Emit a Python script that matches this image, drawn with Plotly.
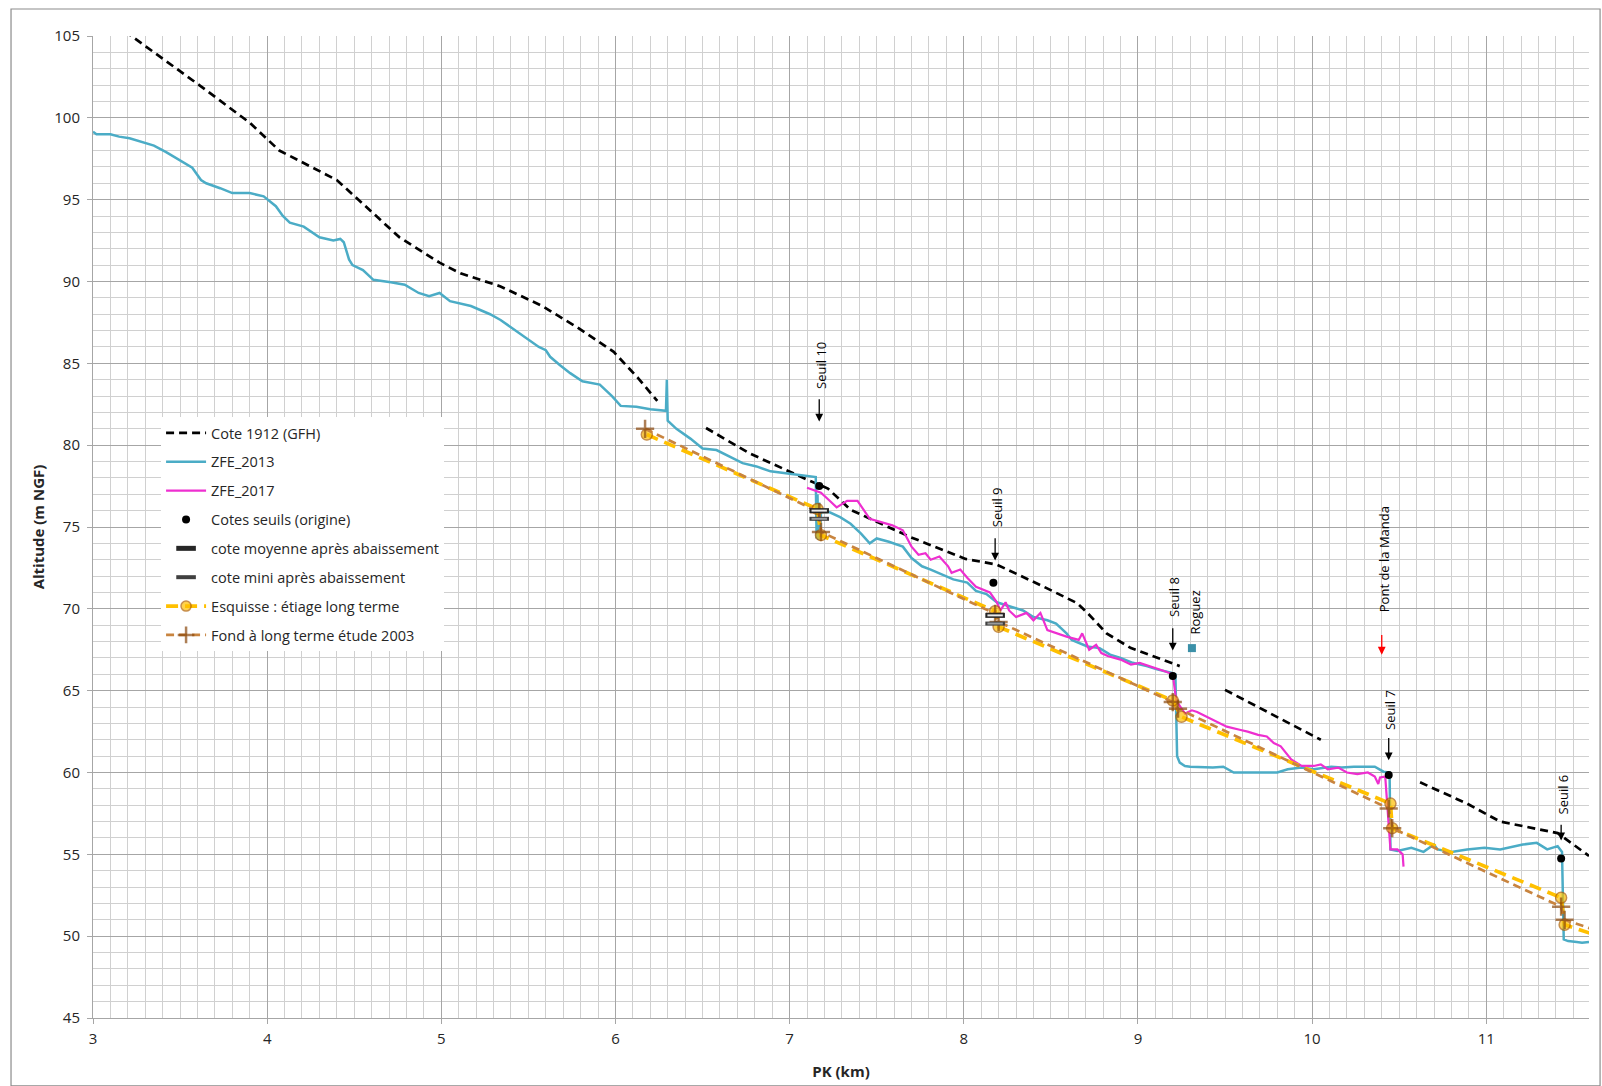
import plotly.graph_objects as go

# ---------------- data ----------------
cote1912_x = [3.0, 3.22, 3.61, 3.90, 4.07, 4.40, 4.76, 4.99, 5.11, 5.34, 5.58, 5.78, 5.99, 6.13, 6.24, None,
              6.52, 6.77, 7.10, 7.22, 7.35, 7.69, 8.01, 8.19, 8.45, 8.65, 8.71, 8.82, 8.96, 9.09, 9.24, None,
              9.50, 10.05, None,
              10.62, 10.89, 11.08, 11.28, 11.41, 11.59]
cote1912_y = [106.7, 105.0, 102.0, 99.7, 98.0, 96.2, 92.7, 91.15, 90.5, 89.7, 88.5, 87.2, 85.7, 84.1, 82.7, None,
              81.05, 79.5, 77.9, 77.35, 76.05, 74.4, 73.05, 72.7, 71.4, 70.35, 69.75, 68.5, 67.6, 67.1, 66.5, None,
              65.05, 62.0, None,
              59.4, 58.1, 57.0, 56.6, 56.3, 54.9]

zfe2013_x = [3.0, 3.02, 3.10, 3.15, 3.21, 3.29, 3.35, 3.42, 3.51, 3.57, 3.62, 3.65, 3.73, 3.80, 3.90, 3.98,
             4.05, 4.09, 4.13, 4.21, 4.30, 4.38, 4.42, 4.44, 4.47, 4.49, 4.55, 4.61, 4.71, 4.79, 4.87, 4.93,
             4.99, 5.05, 5.17, 5.28, 5.34, 5.40, 5.49, 5.56, 5.60, 5.625, 5.68, 5.74, 5.81, 5.91, 5.98, 6.03,
             6.12, 6.20, 6.29, 6.295, 6.30, 6.35, 6.43, 6.50, 6.58, 6.66, 6.73, 6.81, 6.89, 7.00, 7.14,
             7.15, 7.155, 7.16, 7.165, 7.17, 7.175, 7.18, 7.23, 7.29, 7.35, 7.41, 7.46, 7.50, 7.57, 7.65,
             7.70, 7.76, 7.81, 7.88, 7.94, 8.02, 8.07, 8.13, 8.19, 8.28, 8.34, 8.40, 8.48, 8.53, 8.59, 8.62,
             8.71, 8.78, 8.84, 8.90, 8.97, 9.05, 9.11, 9.19, 9.215, 9.225, 9.24, 9.27, 9.30, 9.43, 9.49,
             9.55, 9.75, 9.80, 9.86, 9.94, 10.01, 10.11, 10.17, 10.24, 10.36, 10.41, 10.445, 10.45, 10.49,
             10.57, 10.64, 10.70, 10.72, 10.80, 10.89, 10.99, 11.08, 11.16, 11.21, 11.29, 11.35, 11.41,
             11.435, 11.445, 11.47, 11.52, 11.55, 11.59]
zfe2013_y = [99.15, 99.0, 99.0, 98.85, 98.75, 98.5, 98.3, 97.9, 97.3, 96.95, 96.2, 96.0, 95.7, 95.4, 95.4, 95.2,
             94.6, 94.0, 93.6, 93.35, 92.7, 92.5, 92.6, 92.4, 91.35, 91.0, 90.7, 90.1, 89.95, 89.8, 89.3, 89.1,
             89.3, 88.8, 88.5, 88.0, 87.65, 87.2, 86.5, 86.0, 85.8, 85.4, 84.9, 84.4, 83.9, 83.7, 83.0, 82.4,
             82.35, 82.2, 82.1, 84.0, 81.5, 81.0, 80.4, 79.8, 79.7, 79.3, 78.9, 78.7, 78.4, 78.25, 78.1,
             78.05, 74.3, 77.0, 74.2, 76.5, 74.4, 75.9, 75.9, 75.6, 75.2, 74.6, 74.0, 74.3, 74.1, 73.8,
             73.1, 72.6, 72.4, 72.1, 71.8, 71.6, 71.1, 70.9, 70.4, 70.1, 69.9, 69.5, 69.3, 69.1, 68.5, 68.1,
             67.7, 67.6, 67.2, 67.0, 66.7, 66.5, 66.3, 66.1, 66.0, 61.0, 60.6, 60.4, 60.35, 60.3, 60.35,
             60.0, 60.0, 60.0, 60.2, 60.3, 60.2, 60.35, 60.3, 60.35, 60.35, 60.05, 60.0, 55.3, 55.2,
             55.4, 55.15, 55.6, 55.3, 55.15, 55.3, 55.4, 55.3, 55.5, 55.6, 55.7, 55.3, 55.5,
             55.15, 49.8, 49.7, 49.65, 49.6, 49.65]

zfe2017_x = [7.10, 7.18, 7.23, 7.27, 7.33, 7.39, 7.46, 7.53, 7.59, 7.65, 7.70, 7.74, 7.78, 7.81, 7.86, 7.91,
             7.93, 7.98, 8.02, 8.07, 8.15, 8.19, 8.21, 8.24, 8.26, 8.30, 8.36, 8.40, 8.44, 8.48, 8.53, 8.59,
             8.66, 8.68, 8.72, 8.76, 8.79, 8.83, 8.90, 8.96, 9.01, 9.07, 9.15, 9.20, 9.22, 9.27, 9.31, 9.34,
             9.40, 9.46, 9.51, 9.59, 9.63, 9.69, 9.74, 9.78, 9.82, 9.88, 9.94, 10.01, 10.05, 10.09, 10.15,
             10.20, 10.26, 10.32, 10.36, 10.38, 10.39, 10.42, 10.45, 10.49, 10.52, 10.525]
zfe2017_y = [77.4, 77.1, 76.6, 76.2, 76.6, 76.6, 75.5, 75.3, 75.1, 74.8, 73.8, 73.3, 73.4, 73.0, 73.2, 72.6,
             72.2, 72.4, 71.9, 71.35, 71.0, 70.4, 69.9, 70.4, 69.9, 69.5, 69.75, 69.3, 69.75, 68.7, 68.5, 68.3,
             68.1, 68.5, 67.5, 67.8, 67.3, 67.1, 66.9, 66.6, 66.7, 66.5, 66.2, 66.0, 64.4, 63.6, 63.8, 63.7,
             63.4, 63.1, 62.8, 62.6, 62.5, 62.3, 62.2, 61.8, 61.6, 60.8, 60.4, 60.4, 60.5, 60.2, 60.3,
             60.0, 59.9, 60.0, 59.75, 59.3, 59.7, 59.75, 55.3, 55.3, 55.0, 54.25]

seuils_x = [7.17, 8.17, 9.20, 10.44, 11.43]
seuils_y = [77.5, 71.6, 65.9, 59.85, 54.75]

moyenne_x = [7.17, 8.18]
moyenne_y = [76.0, 69.6]
mini_x = [7.17, 8.18]
mini_y = [75.5, 69.1]

esquisse_x = [6.18, 7.16, 7.18, 8.18, 8.20, 9.20, 9.25, 10.45, 10.46, 11.43, 11.45, 11.80]
esquisse_y = [80.65, 76.1, 74.5, 69.85, 68.9, 64.4, 63.4, 58.1, 56.6, 52.35, 50.7, 49.45]
esquisse_marker = [1, 1, 1, 1, 1, 1, 1, 1, 1, 1, 1, 0]

fond2003_x = [6.17, 7.17, 7.18, 8.18, 8.20, 9.20, 9.23, 10.44, 10.46, 11.43, 11.45, 11.80]
fond2003_y = [81.0, 75.9, 74.7, 69.7, 69.2, 64.3, 63.9, 57.8, 56.6, 51.8, 51.0, 49.75]
fond2003_marker = [1, 1, 1, 1, 1, 1, 1, 1, 1, 1, 1, 0]

roguez_x = [9.31]
roguez_y = [67.6]

# annotations: label, x, y(text centre), arrow tail y, arrow head y, colour
labels = [
    ("Seuil 10", 7.18, 84.9, 82.9, 81.45, "black"),
    ("Seuil 9", 8.19, 76.2, 74.4, 72.95, "black"),
    ("Seuil 8", 9.21, 70.7, 68.9, 67.45, "black"),
    ("Pont de la Manda", 10.41, 73.0, 68.5, 67.2, "red"),
    ("Seuil 7", 10.45, 63.85, 62.2, 60.75, "black"),
    ("Seuil 6", 11.44, 58.65, 56.9, 55.85, "black"),
]
roguez_label = ("Roguez", 9.33, 69.8)

FONT = "Open Sans"

fig = go.Figure()

fig.add_trace(go.Scatter(x=cote1912_x, y=cote1912_y, mode="lines", name="Cote 1912 (GFH)",
                         line=dict(color="black", width=2.7, dash="8px,5px"),
                         legendgroup="g1", legendrank=1))
fig.add_trace(go.Scatter(x=zfe2013_x, y=zfe2013_y, mode="lines", name="ZFE_2013",
                         line=dict(color="#4BACC6", width=2.5),
                         legendgroup="g2", legendrank=2))
fig.add_trace(go.Scatter(x=zfe2017_x, y=zfe2017_y, mode="lines", name="ZFE_2017",
                         line=dict(color="#EE2FD0", width=2.2),
                         legendgroup="g3", legendrank=3))
fig.add_trace(go.Scatter(x=esquisse_x, y=esquisse_y, mode="lines+markers",
                         name="Esquisse : étiage long terme",
                         line=dict(color="#FFC000", width=3.7, dash="12px,7px"),
                         marker=dict(symbol="circle", size=[11 * m for m in esquisse_marker],
                                     color="#FFC000", line=dict(color="#B05F00", width=1.5)),
                         legendgroup="g7", legendrank=7))
fig.add_trace(go.Scatter(x=fond2003_x, y=fond2003_y, mode="lines+markers",
                         name="Fond à long terme étude 2003",
                         line=dict(color="#C8843F", width=2.7, dash="8px,5px"),
                         marker=dict(symbol="cross-thin", size=[13 * m for m in fond2003_marker],
                                     color="#8B4A10", line=dict(color="#8B4A10", width=2.5)),
                         legendgroup="g8", legendrank=8))
fig.add_trace(go.Scatter(x=seuils_x, y=seuils_y, mode="markers", name="Cotes seuils (origine)",
                         marker=dict(symbol="circle", size=8, color="black"),
                         legendgroup="g4", legendrank=4))
fig.add_trace(go.Scatter(x=moyenne_x, y=moyenne_y, mode="markers", name="cote moyenne après abaissement",
                         marker=dict(symbol="line-ew", size=14, line=dict(color="#262626", width=5)),
                         legendgroup="g5", legendrank=5))
fig.add_trace(go.Scatter(x=moyenne_x, y=moyenne_y, mode="markers", showlegend=False, hoverinfo="skip",
                         marker=dict(symbol="line-ew", size=11, line=dict(color="#E8E8E8", width=2)),
                         legendgroup="g5"))
fig.add_trace(go.Scatter(x=mini_x, y=mini_y, mode="markers", name="cote mini après abaissement",
                         marker=dict(symbol="line-ew", size=14, line=dict(color="#404040", width=4)),
                         legendgroup="g6", legendrank=6))
fig.add_trace(go.Scatter(x=mini_x, y=mini_y, mode="markers", showlegend=False, hoverinfo="skip",
                         marker=dict(symbol="line-ew", size=11, line=dict(color="#9A9A9A", width=2)),
                         legendgroup="g6"))
fig.add_trace(go.Scatter(x=roguez_x, y=roguez_y, mode="markers", name="Roguez", showlegend=False,
                         marker=dict(symbol="square", size=8, color="#3B90A8")))

annotations = []
for txt, x, yt, ytail, yhead, col in labels:
    annotations.append(dict(x=x, y=yt, text=txt, showarrow=False, textangle=-90,
                            xanchor="center", yanchor="middle",
                            font=dict(family=FONT, size=13, color="black")))
    annotations.append(dict(x=x - 0.01, y=yhead, ax=x - 0.01, ay=ytail, axref="x", ayref="y",
                            text="", showarrow=True, arrowhead=2, arrowsize=1.2,
                            arrowwidth=1.3, arrowcolor=col))
annotations.append(dict(x=roguez_label[1], y=roguez_label[2], text=roguez_label[0], showarrow=False,
                        textangle=-90, xanchor="center", yanchor="middle",
                        font=dict(family=FONT, size=13, color="black")))

fig.update_layout(
    width=1602, height=1086,
    margin=dict(l=93, r=13, t=36, b=68),
    paper_bgcolor="white", plot_bgcolor="white",
    font=dict(family=FONT, size=14, color="#262626"),
    showlegend=True,
    legend=dict(x=0.0455, y=0.612, xanchor="left", yanchor="top",
                bgcolor="white", borderwidth=0, traceorder="grouped",
                tracegroupgap=7, itemwidth=40,
                font=dict(family=FONT, size=14.5, color="#262626")),
    annotations=annotations,
    shapes=[dict(type="rect", xref="paper", yref="paper",
                 x0=-0.0548, x1=1.0074, y0=-0.069, y1=1.0275,
                 line=dict(color="#8C8C8C", width=1.2), fillcolor="rgba(0,0,0,0)", layer="below")],
)

fig.update_xaxes(range=[3, 11.59], dtick=1, tick0=3, automargin=False,
                 showgrid=True, gridcolor="#A6A6A6", gridwidth=1,
                 minor=dict(dtick=0.1, showgrid=True, gridcolor="#D0D0D0", gridwidth=1),
                 showline=True, linecolor="#A6A6A6", linewidth=1,
                 ticks="outside", ticklen=5, tickcolor="#A6A6A6", ticklabelstandoff=2,
                 tickfont=dict(family=FONT, size=15, color="#262626"),
                 zeroline=False,
                 title=dict(text="<b>PK (km)</b>", font=dict(family=FONT, size=15, color="#262626"),
                            standoff=19))
fig.update_yaxes(range=[45, 105], dtick=5, tick0=45, automargin=False,
                 showgrid=True, gridcolor="#A6A6A6", gridwidth=1,
                 minor=dict(dtick=1, showgrid=True, gridcolor="#D0D0D0", gridwidth=1),
                 showline=True, linecolor="#A6A6A6", linewidth=1,
                 ticks="outside", ticklen=5, tickcolor="#A6A6A6", ticklabelstandoff=4,
                 tickfont=dict(family=FONT, size=15, color="#262626"),
                 zeroline=False,
                 title=dict(text="<b>Altitude (m NGF)</b>", font=dict(family=FONT, size=15, color="#262626"),
                            standoff=6))

fig.write_html("out.html", config={"displayModeBar": False},
               post_script="document.body.style.margin='0';")
